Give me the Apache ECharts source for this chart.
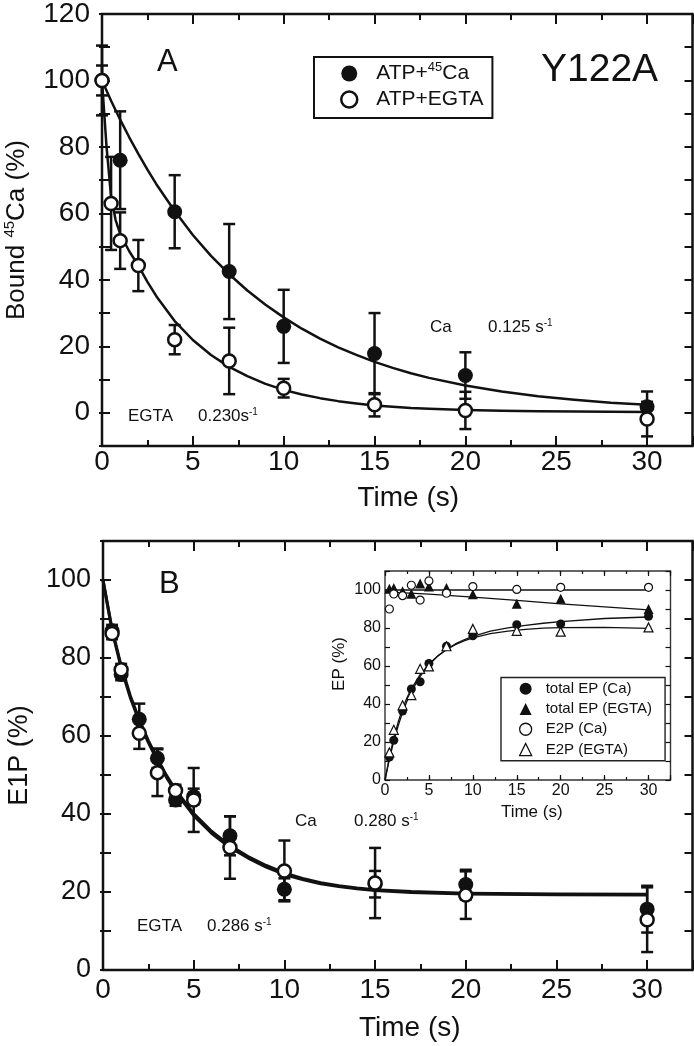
<!DOCTYPE html>
<html><head><meta charset="utf-8">
<script src="https://cdn.jsdelivr.net/npm/echarts@6/dist/echarts.min.js"></script>
<style>html,body{margin:0;padding:0;background:#fff}#c{width:694px;height:1046px}</style>
</head><body><div id="c"></div>
<script>
// ---------------- DATA ----------------
// Panel A: bound 45Ca (%)
const timeA_Ca   = [0, 1, 4, 7, 10, 15, 20, 30];
const boundA_Ca  = [100, 76, 60.5, 42.5, 26, 17.8, 11.2, 1.8];
const errA_Ca    = [10.5, 14.7, 11, 14.3, 11, 12.2, 7, 4.6];
const timeA_EGTA = [0, 0.5, 1, 2, 4, 7, 10, 15, 20, 30];
const boundA_EGTA= [100, 63, 51.8, 44.3, 22, 15.6, 7.4, 2.4, 0.7, -1.9];
const errA_EGTA  = [4.5, 14, 8.5, 7.7, 4.4, 10, 2.8, 3.5, 5.6, 5.2];
// fitted curves
const fitA_tCa   = [0, 0.5, 1, 1.5, 2, 2.5, 3, 4, 5, 6, 7, 8, 9, 10, 11, 12, 13, 14, 15, 16, 17, 18, 20, 22, 24, 26, 28, 30];
const fitA_Ca    = [100, 93.9, 88.2, 82.9, 77.9, 73.2, 68.7, 60.7, 53.5, 47.2, 41.7, 36.8, 32.5, 28.7, 25.3, 22.3, 19.7, 17.4, 15.3, 13.5, 11.9, 10.5, 8.2, 6.4, 5.0, 3.9, 3.0, 2.4];
const fitA_tEG   = [0, 0.25, 0.5, 0.75, 1, 1.5, 2, 2.5, 3, 4, 5, 6, 7, 8, 9, 10, 11, 12, 13, 14, 15, 16, 17, 18, 20, 22, 24, 26, 28, 30];
const fitA_EGTA  = [100, 80, 65, 58, 53.8, 48.6, 44.3, 39.4, 35, 27.6, 21.9, 17.4, 13.8, 11, 8.7, 6.9, 5.5, 4.4, 3.5, 2.8, 2.2, 1.8, 1.4, 1.2, 0.8, 0.6, 0.45, 0.35, 0.3, 0.2];

// Panel B: E1P (%)
const timeB_Ca   = [0.5, 1, 2, 3, 4, 5, 7, 10, 15, 20, 30];
const e1pB_Ca    = [87, 75.8, 64.3, 54.3, 43.6, 44.5, 34.4, 20.7, 22, 21.9, 15.6];
const errB_Ca    = [1.5, 1.5, 4, 2.5, 1.5, 2, 5, 2.8, 3.4, 3.8, 6];
const timeB_EGTA = [0.5, 1, 2, 3, 4, 5, 7, 10, 15, 20, 30];
const e1pB_EGTA  = [86.3, 77, 60.7, 50.6, 46, 43.6, 31.4, 25.4, 22.3, 19.2, 12.9];
const errB_EGTA  = [1.5, 1.5, 4, 6, 1.5, 8.2, 8, 7.8, 9, 6.1, 8.3];
const fitB_t     = [0, 0.5, 1, 1.5, 2, 2.5, 3, 3.5, 4, 5, 6, 7, 8, 9, 10, 11, 12, 13, 14, 15, 17, 20, 25, 30];
const fitB_Ca    = [100, 87.4, 78, 70.4, 64.2, 58.8, 54.2, 49.9, 46.2, 40.1, 35.5, 31.9, 29.1, 26.8, 24.9, 23.5, 22.4, 21.6, 21, 20.6, 20.1, 19.7, 19.5, 19.4];
const fitB_EGTA  = [100, 87, 77.5, 69.9, 63.7, 58.3, 53.7, 49.4, 45.7, 39.6, 35, 31.4, 28.7, 26.4, 24.5, 23.2, 22.1, 21.4, 20.8, 20.4, 19.9, 19.5, 19.3, 19.2];

// Inset: EP (%)
const timeIn      = [0.5, 1, 2, 3, 4, 5, 7, 10, 15, 20, 30];
const totEP_Ca    = [12.1, 20.9, 36.3, 47.9, 51.7, 61.3, 70.4, 75.9, 81.7, 82.1, 86.2];
const totEP_EGTA  = [100.6, 101, 99.4, 98, 103.4, 101.9, 101, 97.8, 92.7, 95.4, 90];
const e2p_Ca      = [90, 97.9, 97, 102.5, 94.7, 104.8, 98.3, 101.8, 100.3, 101.4, 101.4];
const e2p_EGTA    = [14.5, 26.4, 39.3, 44.7, 58.5, 59.8, 70.4, 79.5, 78.5, 78.1, 80.3];
const fitIn_t     = [0, 0.5, 1, 1.5, 2, 2.5, 3, 4, 5, 6, 7, 8, 9, 10, 12, 14, 16, 18, 20, 25, 30];
const fitIn_totCa = [0, 11, 20.5, 28.5, 35.5, 41.5, 46.5, 54.5, 60.5, 65.2, 68.8, 71.6, 73.8, 75.6, 78.3, 80.1, 81.4, 82.5, 83.4, 85, 85.8];
const fitIn_e2pEg = [0, 12, 22, 30.5, 37.5, 43.3, 48, 55.5, 61, 65.3, 68.6, 71.2, 73.2, 74.8, 77, 78.4, 79.3, 79.9, 80.2, 80.3, 79.8];
const fitIn_totEg_t = [0, 5, 10, 15, 20, 30];
const fitIn_totEg   = [99, 97.8, 96.3, 94.5, 92.7, 89.5];
const fitIn_e2pCa_t = [0, 30];
const fitIn_e2pCa   = [100, 100];

// tick labels
const xTickLabels = [0, 5, 10, 15, 20, 25, 30];

// ---------------- helpers ----------------
const FONT = '"Liberation Sans", Arial, sans-serif';
const INK = '#111';
const XMAX = 32.5;
const zip = (xs, ys) => xs.map((x, i) => [x, ys[i]]);
const errRows = (xs, ys, es) => xs.map((x, i) => [x, ys[i] - es[i], ys[i] + es[i]]);

function xAxesFor(g, c) {
  const base = {type: 'value', gridIndex: g, min: 0, max: XMAX, axisLine: {show: false, onZero: false}, splitLine: {show: false}};
  const tick = (len) => ({show: true, inside: true, length: len, lineStyle: {color: INK, width: c.tw}});
  return [
    Object.assign({}, base, {position: 'bottom', interval: 5, axisTick: tick(c.major),
      axisLabel: {show: true, fontFamily: FONT, fontSize: c.fs, color: INK, margin: c.margin,
        formatter: v => xTickLabels.indexOf(v) >= 0 ? String(v) : ''},
      name: 'Time (s)', nameLocation: 'middle', nameGap: c.nameGap,
      nameTextStyle: {fontFamily: FONT, fontSize: c.nfs, color: INK, padding: [0, 0, 0, c.npad]}}),
    Object.assign({}, base, {position: 'bottom', interval: 2.5, axisTick: tick(c.minor), axisLabel: {show: false}}),
    Object.assign({}, base, {position: 'top', interval: 5, axisTick: tick(c.major), axisLabel: {show: false}}),
    Object.assign({}, base, {position: 'top', interval: 2.5, axisTick: tick(c.minor), axisLabel: {show: false}})
  ];
}
function yAxesFor(g, c) {
  const base = {type: 'value', gridIndex: g, min: c.min, max: c.max, interval: 10, axisLine: {show: false, onZero: false}, splitLine: {show: false}};
  const tick = {show: true, inside: true, length: c.tl, lineStyle: {color: INK, width: c.tw}};
  const out = [
    Object.assign({}, base, {position: 'left', axisTick: tick,
      axisLabel: {show: true, fontFamily: FONT, fontSize: c.fs, color: INK, margin: c.margin,
        formatter: v => (v % 20 === 0 && v >= 0 && v <= c.lmax) ? String(v) : ''},
      name: c.name, nameLocation: 'middle', nameGap: c.nameGap,
      nameTextStyle: {fontFamily: FONT, fontSize: c.nfs, color: INK, lineHeight: c.nfs + 4, padding: c.npad || 0,
        rich: {s: {fontFamily: FONT, fontSize: Math.round(c.nfs * 0.58), color: INK, verticalAlign: 'top', lineHeight: 16}}}}),
    Object.assign({}, base, {position: 'right', axisTick: tick, axisLabel: {show: false}})
  ];
  if (c.outTick) {
    // short outward stubs so the left ticks cross the frame, as in the original
    out.push(Object.assign({}, base, {position: 'left', axisLabel: {show: false},
      axisTick: {show: true, inside: false, length: c.outTick, lineStyle: {color: INK, width: c.tw}}}));
  }
  return out;
}
function errRender(cap, lw) {
  return function (params, api) {
    const x = api.value(0), lo = api.value(1), hi = api.value(2);
    const a = api.coord([x, hi]), b = api.coord([x, lo]);
    const st = {stroke: INK, lineWidth: lw};
    return {type: 'group', children: [
      {type: 'line', shape: {x1: a[0], y1: a[1], x2: b[0], y2: b[1]}, style: st},
      {type: 'line', shape: {x1: a[0] - cap, y1: a[1], x2: a[0] + cap, y2: a[1]}, style: st},
      {type: 'line', shape: {x1: b[0] - cap, y1: b[1], x2: b[0] + cap, y2: b[1]}, style: st}
    ]};
  };
}
function errSeries(xi, yi, rows, cap, lw) {
  return {type: 'custom', xAxisIndex: xi, yAxisIndex: yi, data: rows, renderItem: errRender(cap, lw),
    encode: {x: 0, y: [1, 2]}, z: 2, silent: true};
}
function lineSeries(xi, yi, pts, w) {
  return {type: 'line', xAxisIndex: xi, yAxisIndex: yi, data: pts, showSymbol: false, symbol: 'none',
    smooth: false, lineStyle: {color: INK, width: w, join: 'round'}, z: 3, silent: true};
}
function scatterSeries(name, xi, yi, pts, symbol, size, filled, bw, z) {
  return {type: 'scatter', name: name, xAxisIndex: xi, yAxisIndex: yi, data: pts, symbol: symbol, symbolSize: size,
    itemStyle: filled ? {color: INK, borderColor: INK, borderWidth: 0, opacity: 1}
                      : {color: '#fff', borderColor: INK, borderWidth: bw, opacity: 1},
    z: z, silent: true};
}

// ---------------- option ----------------
const supRich = {s: {fontFamily: FONT, fontSize: 10, color: INK, verticalAlign: 'top', lineHeight: 12}};
function txt(x, y, text, fs, align) {
  return {type: 'text', x: x, y: y, z: 50, style: {text: text, fontFamily: FONT, fontSize: fs, fill: INK,
    align: align || 'left', verticalAlign: 'middle', rich: supRich}};
}
const gridBase = {show: true, backgroundColor: 'transparent', containLabel: false, outerBoundsMode: 'none'};

// axis index layout: yAxis 0..2 = A (left, right, left-out), 3..5 = B, 6..7 = inset
const option = {
  backgroundColor: '#fff',
  animation: false,
  grid: [
    Object.assign({left: 102, top: 14, width: 590.5, height: 432, borderColor: INK, borderWidth: 2.5}, gridBase),
    Object.assign({left: 103, top: 541, width: 589.5, height: 429, borderColor: INK, borderWidth: 2.5}, gridBase),
    Object.assign({left: 385, top: 571, width: 285.5, height: 209, borderColor: '#333', borderWidth: 1.4}, gridBase)
  ],
  xAxis: [].concat(
    xAxesFor(0, {tw: 2, major: 10, minor: 6, fs: 28, margin: 2, nameGap: 38, nfs: 28, npad: 22}),
    xAxesFor(1, {tw: 2, major: 10, minor: 6, fs: 28, margin: 6, nameGap: 44, nfs: 28, npad: 24}),
    xAxesFor(2, {tw: 1.2, major: 5, minor: 3, fs: 16, margin: 3, nameGap: 24, nfs: 17, npad: 8})
  ),
  yAxis: [].concat(
    yAxesFor(0, {min: -10, max: 120, lmax: 120, tl: 8, tw: 2, fs: 28, margin: 12, outTick: 3, name: 'Bound {s|45}Ca (%)', nameGap: 70, nfs: 26}),
    yAxesFor(1, {min: 0, max: 110, lmax: 100, tl: 8, tw: 2, fs: 27, margin: 12, outTick: 3, name: 'E1P (%)', nameGap: 59, nfs: 27}),
    yAxesFor(2, {min: 0, max: 110, lmax: 100, tl: 5, tw: 1.2, fs: 16, margin: 4, name: 'EP (%)', nameGap: 35, nfs: 17, npad: [0, 0, 0, 23]})
  ),
  legend: [
    {left: 314, top: 57, orient: 'vertical', padding: [4, 9, 6, 26], itemGap: 1, itemWidth: 16, itemHeight: 16,
      borderColor: INK, borderWidth: 2, selectedMode: false,
      data: [
        {name: 'ATP+45Ca', icon: 'circle', itemStyle: {color: INK, borderWidth: 0, opacity: 1}},
        {name: 'ATP+EGTA', icon: 'circle', itemStyle: {color: '#fff', borderColor: INK, borderWidth: 2.5, opacity: 1}}
      ],
      formatter: n => n === 'ATP+45Ca' ? 'ATP+{s|45}Ca' : n,
      textStyle: {fontFamily: FONT, fontSize: 21, color: INK, lineHeight: 25, padding: [0, 0, 0, 14],
        rich: {s: {fontFamily: FONT, fontSize: 13, color: INK, verticalAlign: 'top', lineHeight: 15}}}},
    {left: 501, top: 677.5, orient: 'vertical', padding: [1, 13, 1, 18], itemGap: 0, itemWidth: 12, itemHeight: 12,
      borderColor: '#222', borderWidth: 1.4, selectedMode: false,
      data: [
        {name: 'total EP (Ca)', icon: 'circle', itemStyle: {color: INK, borderWidth: 0, opacity: 1}},
        {name: 'total EP (EGTA)', icon: 'triangle', itemStyle: {color: INK, borderWidth: 0, opacity: 1}},
        {name: 'E2P (Ca)', icon: 'circle', itemStyle: {color: '#fff', borderColor: INK, borderWidth: 1.3, opacity: 1}},
        {name: 'E2P (EGTA)', icon: 'triangle', itemStyle: {color: '#fff', borderColor: INK, borderWidth: 1.3, opacity: 1}}
      ],
      textStyle: {fontFamily: FONT, fontSize: 15, color: INK, lineHeight: 20.3, padding: [0, 0, 0, 9]}}
  ],
  graphic: [
    txt(157, 62, 'A', 31),
    txt(541, 70, 'Y122A', 39),
    txt(430, 327, 'Ca', 17),
    txt(488, 327, '0.125 s{s|-1}', 17),
    txt(128, 416, 'EGTA', 17),
    txt(198, 416, '0.230s{s|-1}', 17),
    txt(159, 584, 'B', 31),
    txt(295, 821, 'Ca', 17),
    txt(354, 821, '0.280 s{s|-1}', 17),
    txt(137, 926, 'EGTA', 17),
    txt(207, 926, '0.286 s{s|-1}', 17)
  ],
  series: [
    // Panel A
    errSeries(0, 0, errRows(timeA_Ca, boundA_Ca, errA_Ca), 6, 2.5),
    errSeries(0, 0, errRows(timeA_EGTA, boundA_EGTA, errA_EGTA), 6, 2.5),
    lineSeries(0, 0, zip(fitA_tCa, fitA_Ca), 2.5),
    lineSeries(0, 0, zip(fitA_tEG, fitA_EGTA), 2.5),
    scatterSeries('ATP+45Ca', 0, 0, zip(timeA_Ca, boundA_Ca), 'circle', 15, true, 0, 4),
    scatterSeries('ATP+EGTA', 0, 0, zip(timeA_EGTA, boundA_EGTA), 'circle', 13, false, 2.5, 5),
    // Panel B
    errSeries(4, 3, errRows(timeB_Ca, e1pB_Ca, errB_Ca), 6, 2.5),
    errSeries(4, 3, errRows(timeB_EGTA, e1pB_EGTA, errB_EGTA), 6, 2.5),
    lineSeries(4, 3, zip(fitB_t, fitB_Ca), 3),
    lineSeries(4, 3, zip(fitB_t, fitB_EGTA), 3),
    scatterSeries('B Ca', 4, 3, zip(timeB_Ca, e1pB_Ca), 'circle', 15, true, 0, 4),
    scatterSeries('B EGTA', 4, 3, zip(timeB_EGTA, e1pB_EGTA), 'circle', 13, false, 2.5, 5),
    // Inset
    lineSeries(8, 6, zip(fitIn_t, fitIn_totCa), 1.3),
    lineSeries(8, 6, zip(fitIn_t, fitIn_e2pEg), 1.3),
    lineSeries(8, 6, zip(fitIn_totEg_t, fitIn_totEg), 1.3),
    lineSeries(8, 6, zip(fitIn_e2pCa_t, fitIn_e2pCa), 1.3),
    scatterSeries('total EP (Ca)', 8, 6, zip(timeIn, totEP_Ca), 'circle', 9, true, 0, 4),
    scatterSeries('total EP (EGTA)', 8, 6, zip(timeIn, totEP_EGTA), 'triangle', 10, true, 0, 4),
    scatterSeries('E2P (Ca)', 8, 6, zip(timeIn, e2p_Ca), 'circle', 8, false, 1.2, 5),
    scatterSeries('E2P (EGTA)', 8, 6, zip(timeIn, e2p_EGTA), 'triangle', 9, false, 1.2, 5)
  ]
};

const chart = echarts.init(document.getElementById('c'), null, {renderer: 'canvas'});
chart.setOption(option);
</script>
</body></html>
